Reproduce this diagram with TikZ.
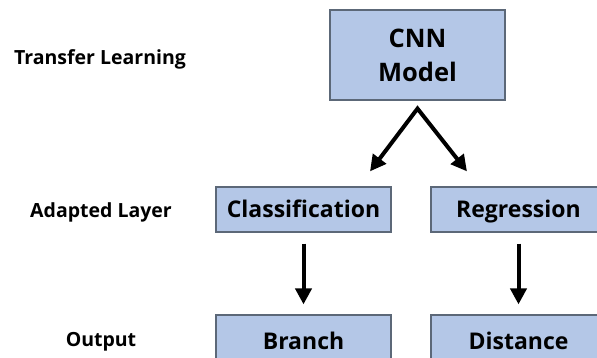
\documentclass[tikz,border=0pt]{standalone}
\usepackage{fontspec}
\setmainfont{Open Sans}
\usetikzlibrary{arrows.meta,calc}
\definecolor{boxfill}{HTML}{B4C7E7}
\definecolor{boxline}{HTML}{5C6878}
\begin{document}
\begin{tikzpicture}[x=1pt,y=1pt,
  block/.style={draw=boxline, line width=1.2pt, fill=boxfill, minimum width=175pt,
    inner sep=0pt, align=center, text height=16.4pt, text depth=0pt,
    font=\bfseries\fontsize{23}{26}\selectfont},
  tag/.style={font=\bfseries\fontsize{19.5}{22}\selectfont, inner sep=0pt,
    text height=13.9pt, text depth=0pt},
  flow/.style={line width=4pt, -{Triangle[length=16pt,width=16pt]}},
  split/.style={line width=4pt, {Triangle[length=16pt,width=16pt]}-{Triangle[length=16pt,width=16pt]}, line join=miter}]
  \useasboundingbox (0,0) rectangle (597,-358);
  \clip (0,0) rectangle (597,-358);

  % row labels
  \node[tag] (lt) at (100,-57.5) {Transfer Learning};
  \node[tag] (la) at (101,-211) {Adapted Layer};
  \node[tag] (lo) at (101,-340) {Output};

  % boxes
  \node[draw=boxline, line width=1.2pt, fill=boxfill, minimum width=175pt,
    minimum height=90pt, inner sep=0pt, align=center,
    font=\bfseries\fontsize{25.5}{34}\selectfont] (cnn) at (417.5,-55) {CNN\\Model};
  \node[block, minimum height=45pt] (cls) at (303.5,-209.5) {Classification};
  \node[block, minimum height=45pt] (reg) at (518.5,-209.5) {Regression};
  \node[block, minimum height=52pt] (br) at (303.5,-341) {Branch};
  \node[block, minimum height=52pt] (dist) at (518.5,-341) {Distance};

  % split arrows from the model
  \coordinate (apex) at ($(cnn.south)+(0,-8)$);
  \coordinate (tipL) at ($(cls.north)+(66.5,15)$);
  \coordinate (tipR) at ($(reg.north)+(-51.5,15)$);
  \draw[split] (tipL) -- (apex) -- (tipR);

  % downward arrows
  \draw[flow, shorten <=11pt, shorten >=10pt] (cls.south) -- (br.north);
  \draw[flow, shorten <=11pt, shorten >=10pt] (reg.south) -- (dist.north);
\end{tikzpicture}
\end{document}
